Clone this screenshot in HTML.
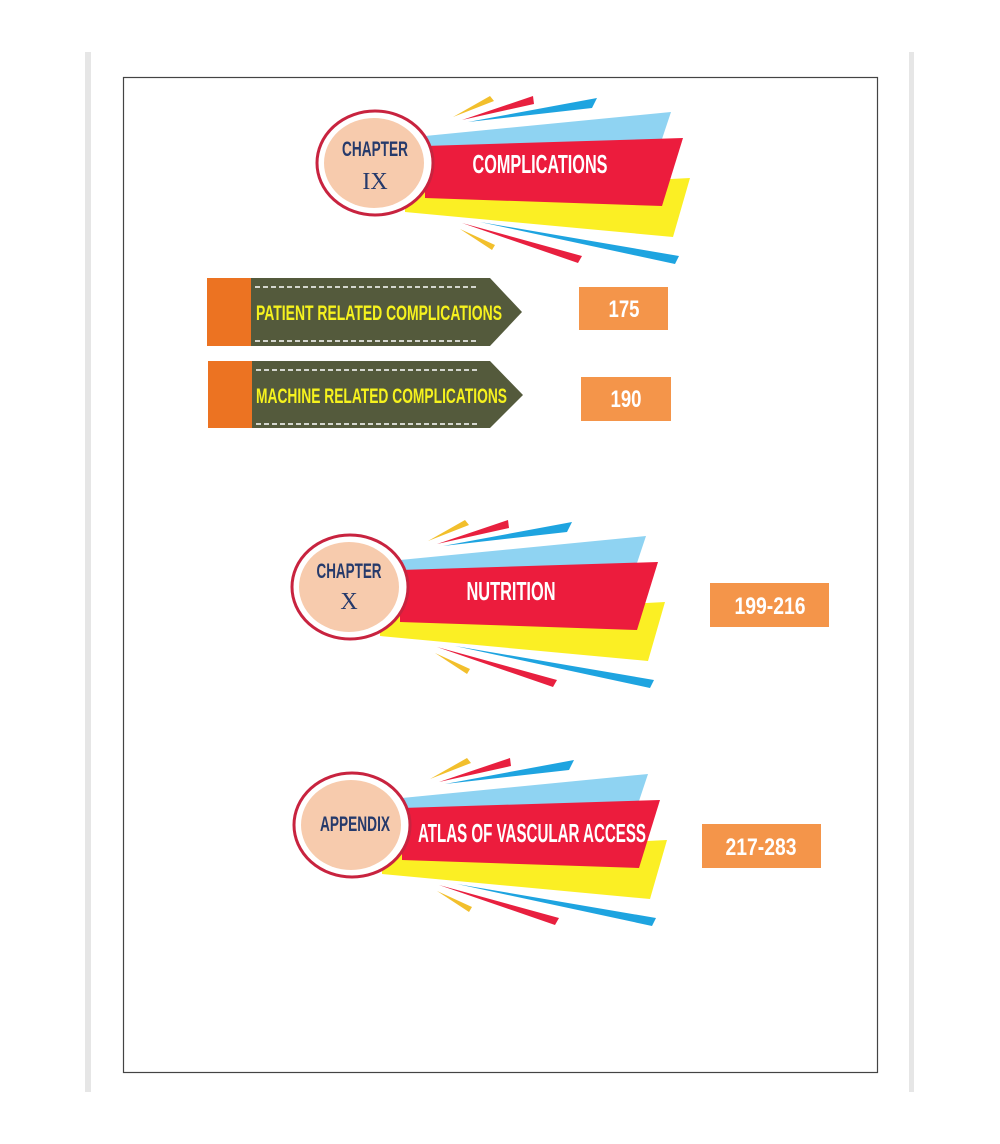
<!DOCTYPE html>
<html><head><meta charset="utf-8"><style>html,body{margin:0;padding:0;background:#fff}svg{display:block}</style></head>
<body>
<svg width="1000" height="1144" viewBox="0 0 1000 1144" xmlns="http://www.w3.org/2000/svg">
<defs>
<g id="ban">
  <polygon points="453,117 490,96 494,101" fill="#f2bf2c"/>
  <polygon points="462,120 533,96 534,104" fill="#e8203f"/>
  <polygon points="468,122 597,98 592,108" fill="#1ea4e0"/>
  <polygon points="425,136 671,112 661,142 425,147" fill="#8fd3f2"/>
  <polygon points="405,193 690,178 673,237 405,212" fill="#fbef24"/>
  <polygon points="425,146 683,138 662,206 425,198" fill="#ec1c3d"/>
  <polygon points="460,229 495,245 492,250" fill="#f2bf2c"/>
  <polygon points="462,223 582,256 578,263" fill="#e8203f"/>
  <polygon points="480,222 679,256 675,264" fill="#1ea4e0"/>
  <ellipse cx="375" cy="163" rx="58" ry="52" fill="#fff" stroke="#c8233f" stroke-width="3"/>
  <ellipse cx="374" cy="163" rx="50" ry="45" fill="#f7cbad"/>
</g>
</defs>
<rect x="85" y="52" width="6" height="1040" fill="#e6e6e6"/>
<rect x="909" y="52" width="5" height="1040" fill="#e6e6e6"/>
<rect x="123.5" y="77.5" width="754" height="995" fill="none" stroke="#444" stroke-width="1.2"/>

<use href="#ban"/>
<use href="#ban" transform="translate(-25,424)"/>
<use href="#ban" transform="translate(-23,662)"/>

<g font-family="Liberation Sans Narrow, Liberation Sans, sans-serif" font-weight="bold">
<text x="375" y="156" font-size="21" fill="#263a6b" text-anchor="middle" textLength="66" lengthAdjust="spacingAndGlyphs">CHAPTER</text>
<text x="540" y="173" font-size="26" fill="#fff" text-anchor="middle" textLength="135" lengthAdjust="spacingAndGlyphs">COMPLICATIONS</text>
<text x="349" y="578" font-size="21" fill="#263a6b" text-anchor="middle" textLength="65" lengthAdjust="spacingAndGlyphs">CHAPTER</text>
<text x="511" y="600" font-size="26" fill="#fff" text-anchor="middle" textLength="89" lengthAdjust="spacingAndGlyphs">NUTRITION</text>
<text x="355" y="831" font-size="21" fill="#263a6b" text-anchor="middle" textLength="70" lengthAdjust="spacingAndGlyphs">APPENDIX</text>
<text x="532" y="842" font-size="26" fill="#fff" text-anchor="middle" textLength="228" lengthAdjust="spacingAndGlyphs">ATLAS OF VASCULAR ACCESS</text>
</g>
<g font-family="Liberation Serif, serif" fill="#263a6b" text-anchor="middle" font-size="24">
<text x="375" y="189">IX</text>
<text x="349" y="609">X</text>
</g>

<!-- arrow boxes -->
<polygon points="251,278 490,278 522,312 490,346 251,346" fill="#545a3c"/>
<rect x="207" y="278" width="44" height="68" fill="#ec7322"/>
<line x1="255" y1="287" x2="478" y2="287" stroke="#fff" stroke-width="1.5" stroke-dasharray="5,3"/>
<line x1="255" y1="341" x2="478" y2="341" stroke="#fff" stroke-width="1.5" stroke-dasharray="5,3"/>
<polygon points="252,361 490,361 523,395 490,428 252,428" fill="#545a3c"/>
<rect x="208" y="361" width="44" height="67" fill="#ec7322"/>
<line x1="256" y1="370" x2="478" y2="370" stroke="#fff" stroke-width="1.5" stroke-dasharray="5,3"/>
<line x1="256" y1="424" x2="478" y2="424" stroke="#fff" stroke-width="1.5" stroke-dasharray="5,3"/>

<g fill="#f4954a">
<rect x="579" y="287" width="89" height="43"/>
<rect x="581" y="377" width="90" height="44"/>
<rect x="710" y="583" width="119" height="44"/>
<rect x="702" y="824" width="119" height="44"/>
</g>
<g font-family="Liberation Sans Narrow, Liberation Sans, sans-serif" font-weight="bold">
<text x="256" y="320" font-size="21" fill="#f6f21e" textLength="246" lengthAdjust="spacingAndGlyphs">PATIENT RELATED COMPLICATIONS</text>
<text x="256" y="403" font-size="21" fill="#f6f21e" textLength="251" lengthAdjust="spacingAndGlyphs">MACHINE RELATED COMPLICATIONS</text>
<g fill="#fff" text-anchor="middle" font-size="24">
<text x="624" y="317" textLength="31" lengthAdjust="spacingAndGlyphs">175</text>
<text x="626" y="407" textLength="31" lengthAdjust="spacingAndGlyphs">190</text>
<text x="770" y="614" textLength="71" lengthAdjust="spacingAndGlyphs">199-216</text>
<text x="761" y="855" textLength="71" lengthAdjust="spacingAndGlyphs">217-283</text>
</g>
</g>
</svg>
</body></html>
